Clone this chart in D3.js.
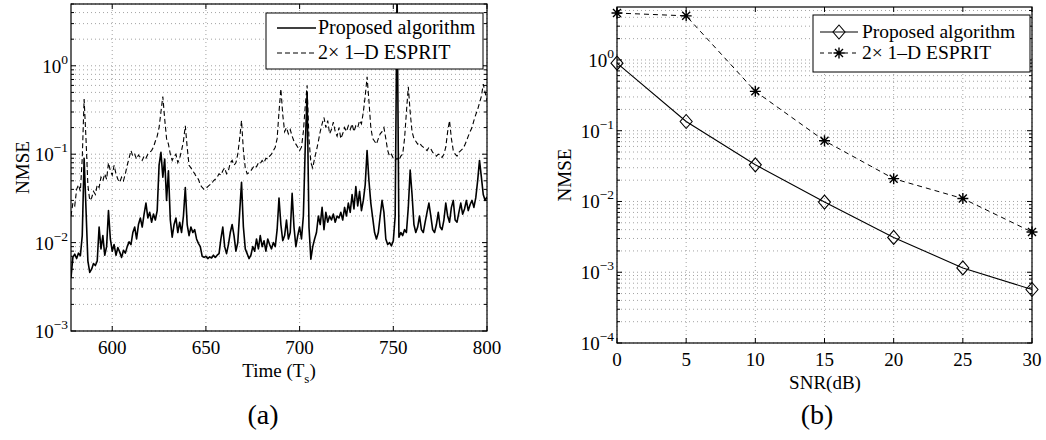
<!DOCTYPE html>
<html>
<head>
<meta charset="utf-8">
<script src="https://cdn.jsdelivr.net/npm/d3@7"></script>
<style>
  body { margin: 0; background: #fff; }
  svg { display: block; }
  text { font-family: "Liberation Serif", "Times New Roman", serif; fill: #000; }
</style>
</head>
<body>
<svg id="chart" width="1046" height="440"></svg>
<script>
// ---- (a) NMSE over time, one sample per T_s starting at t = 578 ----
const timeStart = 578;
const proposedTrack = [
  0.0040, 0.0068, 0.0074, 0.0066, 0.0076, 0.0071, 0.0120, 0.0900, 0.0240, 0.0062, // 578-587
  0.0046, 0.0050, 0.0058, 0.0055, 0.0062, 0.0150, 0.0085, 0.0120, 0.0072, 0.0090, // 588-597
  0.0230, 0.0110, 0.0080, 0.0095, 0.0072, 0.0088, 0.0078, 0.0068, 0.0082, 0.0076, // 598-607
  0.0090, 0.0102, 0.0095, 0.0130, 0.0150, 0.0110, 0.0160, 0.0190, 0.0150, 0.0210, // 608-617
  0.0280, 0.0190, 0.0220, 0.0170, 0.0210, 0.0180, 0.0230, 0.0750, 0.1050, 0.0550, // 618-627
  0.0880, 0.0300, 0.0650, 0.0180, 0.0115, 0.0160, 0.0190, 0.0130, 0.0170, 0.0130, // 628-637
  0.0200, 0.0420, 0.0160, 0.0120, 0.0150, 0.0130, 0.0140, 0.0110, 0.0098, 0.0090, // 638-647
  0.0070, 0.0068, 0.0070, 0.0066, 0.0069, 0.0067, 0.0072, 0.0068, 0.0072, 0.0075, // 648-657
  0.0110, 0.0150, 0.0090, 0.0075, 0.0095, 0.0130, 0.0160, 0.0120, 0.0080, 0.0100, // 658-667
  0.0220, 0.0480, 0.0150, 0.0085, 0.0075, 0.0066, 0.0072, 0.0090, 0.0080, 0.0110, // 668-677
  0.0085, 0.0120, 0.0090, 0.0105, 0.0080, 0.0110, 0.0095, 0.0085, 0.0100, 0.0090, // 678-687
  0.0140, 0.0320, 0.0160, 0.0105, 0.0120, 0.0180, 0.0110, 0.0130, 0.0360, 0.0150, // 688-697
  0.0090, 0.0120, 0.0150, 0.0110, 0.0200, 0.1200, 0.5000, 0.0150, 0.0065, 0.0090, // 698-707
  0.0110, 0.0130, 0.0200, 0.0160, 0.0250, 0.0140, 0.0220, 0.0170, 0.0200, 0.0180, // 708-717
  0.0210, 0.0170, 0.0200, 0.0190, 0.0220, 0.0180, 0.0250, 0.0200, 0.0280, 0.0220, // 718-727
  0.0350, 0.0240, 0.0430, 0.0260, 0.0380, 0.0230, 0.0300, 0.0450, 0.1100, 0.0500, // 728-737
  0.0280, 0.0190, 0.0130, 0.0110, 0.0130, 0.0200, 0.0300, 0.0220, 0.0110, 0.0095, // 738-747
  0.0100, 0.0092, 0.0105, 0.0200, 8.0000, 0.0115, 0.0130, 0.0120, 0.0140, 0.0130, // 748-757
  0.0250, 0.0660, 0.0350, 0.0160, 0.0130, 0.0150, 0.0200, 0.0140, 0.0130, 0.0170, // 758-767
  0.0220, 0.0280, 0.0200, 0.0140, 0.0130, 0.0160, 0.0220, 0.0150, 0.0140, 0.0180, // 768-777
  0.0280, 0.0200, 0.0170, 0.0250, 0.0300, 0.0180, 0.0170, 0.0220, 0.0280, 0.0210, // 778-787
  0.0240, 0.0300, 0.0230, 0.0270, 0.0300, 0.0250, 0.0320, 0.0500, 0.0850, 0.0550, // 788-797
  0.0350, 0.0300, 0.0330                                                          // 798-800
];
const espritTrack = [
  0.020, 0.028, 0.026, 0.040, 0.045, 0.038, 0.090, 0.420, 0.150, 0.045, // 578-587
  0.030, 0.032, 0.038, 0.035, 0.045, 0.042, 0.055, 0.050, 0.060, 0.052, // 588-597
  0.080, 0.065, 0.058, 0.075, 0.060, 0.052, 0.048, 0.055, 0.050, 0.060, // 598-607
  0.075, 0.090, 0.110, 0.095, 0.100, 0.088, 0.098, 0.092, 0.085, 0.095, // 608-617
  0.090, 0.100, 0.105, 0.110, 0.120, 0.140, 0.160, 0.200, 0.300, 0.450, // 618-627
  0.250, 0.150, 0.130, 0.100, 0.085, 0.095, 0.100, 0.080, 0.090, 0.110, // 628-637
  0.140, 0.210, 0.120, 0.075, 0.070, 0.065, 0.060, 0.055, 0.052, 0.045, // 638-647
  0.042, 0.040, 0.041, 0.043, 0.045, 0.046, 0.050, 0.052, 0.055, 0.060, // 648-657
  0.058, 0.065, 0.070, 0.060, 0.065, 0.080, 0.085, 0.075, 0.080, 0.100, // 658-667
  0.150, 0.240, 0.110, 0.070, 0.060, 0.062, 0.065, 0.070, 0.075, 0.072, // 668-677
  0.080, 0.078, 0.085, 0.080, 0.090, 0.088, 0.095, 0.100, 0.110, 0.120, // 678-687
  0.150, 0.300, 0.550, 0.280, 0.180, 0.200, 0.170, 0.190, 0.160, 0.140, // 688-697
  0.130, 0.120, 0.110, 0.120, 0.180, 0.350, 0.600, 0.150, 0.080, 0.070, // 698-707
  0.090, 0.110, 0.140, 0.180, 0.220, 0.260, 0.200, 0.240, 0.170, 0.190, // 708-717
  0.230, 0.180, 0.160, 0.200, 0.150, 0.170, 0.200, 0.180, 0.210, 0.190, // 718-727
  0.220, 0.180, 0.210, 0.200, 0.240, 0.220, 0.300, 0.450, 0.750, 0.400, // 728-737
  0.200, 0.150, 0.140, 0.130, 0.150, 0.170, 0.180, 0.200, 0.150, 0.110, // 738-747
  0.095, 0.100, 0.090, 0.085, 0.090, 0.085, 0.095, 0.100, 0.150, 0.300, // 748-757
  0.580, 0.300, 0.180, 0.150, 0.140, 0.130, 0.135, 0.125, 0.120, 0.115, // 758-767
  0.110, 0.120, 0.115, 0.105, 0.100, 0.095, 0.100, 0.098, 0.092, 0.100, // 768-777
  0.120, 0.180, 0.240, 0.150, 0.110, 0.100, 0.095, 0.105, 0.110, 0.115, // 778-787
  0.125, 0.140, 0.160, 0.180, 0.200, 0.240, 0.280, 0.320, 0.380, 0.450, // 788-797
  0.620, 0.500, 0.400                                                    // 798-800
];

// ---- (b) NMSE versus SNR ----
const snrDb = [0, 5, 10, 15, 20, 25, 30];
const proposedSnr = [0.90, 0.135, 0.033, 0.0098, 0.0031, 0.00115, 0.00057];
const espritSnr = [4.6, 4.2, 0.36, 0.072, 0.021, 0.011, 0.0037];

// ---- axis ticks and labels ----
const timeTicks = [600, 650, 700, 750, 800];
const snrTicks = [0, 5, 10, 15, 20, 25, 30];
const decadesA = [-3, -2, -1, 0];
const decadesB = [-4, -3, -2, -1, 0];
const legendLabels = ["Proposed algorithm", "2\u00d7 1\u2013D ESPRIT"];
const panelTags = ["(a)", "(b)"];

const svg = d3.select("#chart");

function minorValues(domain) {
  const out = [];
  const lo = Math.floor(Math.log10(domain[0]));
  const hi = Math.ceil(Math.log10(domain[1]));
  for (let d = lo; d <= hi; d++) {
    for (let m = 1; m <= 9; m++) {
      const v = m * Math.pow(10, d);
      if (v >= domain[0] * 0.9999 && v <= domain[1] * 1.0001) out.push({ v, major: m === 1 });
    }
  }
  return out;
}

function drawFrame(g, x, y, opts) {
  const [x0, x1] = x.range();
  const [y0, y1] = y.range(); // y0 bottom, y1 top
  const gridValsY = minorValues(y.domain());

  // dotted grid
  const grid = g.append("g").attr("stroke", "#8c8c8c").attr("stroke-width", 0.8)
    .attr("stroke-dasharray", "1,3").attr("fill", "none");
  grid.selectAll("line.gy").data(gridValsY).join("line")
    .attr("x1", x0).attr("x2", x1)
    .attr("y1", d => y(d.v)).attr("y2", d => y(d.v));
  grid.selectAll("line.gx").data(opts.xTicks).join("line")
    .attr("x1", d => x(d)).attr("x2", d => x(d))
    .attr("y1", y0).attr("y2", y1);

  // inward ticks on all four sides
  const tk = g.append("g").attr("stroke", "#000").attr("stroke-width", 1);
  opts.xTicks.forEach(t => {
    tk.append("line").attr("x1", x(t)).attr("x2", x(t)).attr("y1", y0).attr("y2", y0 - 5);
    tk.append("line").attr("x1", x(t)).attr("x2", x(t)).attr("y1", y1).attr("y2", y1 + 5);
  });
  gridValsY.forEach(d => {
    const len = d.major ? 5 : 3;
    tk.append("line").attr("x1", x0).attr("x2", x0 + len).attr("y1", y(d.v)).attr("y2", y(d.v));
    tk.append("line").attr("x1", x1).attr("x2", x1 - len).attr("y1", y(d.v)).attr("y2", y(d.v));
  });

  // box
  g.append("rect").attr("x", x0).attr("y", y1).attr("width", x1 - x0).attr("height", y0 - y1)
    .attr("fill", "none").attr("stroke", "#000").attr("stroke-width", 1.2);

  // x tick labels
  g.append("g").selectAll("text").data(opts.xTicks).join("text")
    .attr("x", d => x(d)).attr("y", y0 + 23)
    .attr("text-anchor", "middle").attr("font-size", 19)
    .text(d => d);

  // y tick labels 10^k
  const yl = g.append("g").selectAll("text").data(opts.decades).join("text")
    .attr("x", x0 - 3).attr("y", d => y(Math.pow(10, d)) + 7)
    .attr("text-anchor", "end").attr("font-size", 19);
  yl.append("tspan").text("10");
  yl.append("tspan").attr("dy", -9).attr("font-size", 13.5)
    .text(d => (d < 0 ? "\u2212" + (-d) : String(d)));

  // y label
  const cy = (y0 + y1) / 2;
  g.append("text").attr("transform", `translate(${opts.yLabelX},${cy}) rotate(-90)`)
    .attr("text-anchor", "middle").attr("font-size", 19).text("NMSE");
}

// ---------------- panel (a) ----------------
const xa = d3.scaleLinear().domain([timeStart, 800]).range([71, 487]);
const ya = d3.scaleLog().domain([1e-3, 5]).range([331, 4]);
const ga = svg.append("g");
drawFrame(ga, xa, ya, { xTicks: timeTicks, decades: decadesA, yLabelX: 29 });

svg.append("clipPath").attr("id", "clipA").append("rect")
  .attr("x", 71).attr("y", 4).attr("width", 416).attr("height", 327);

const lineA = d3.line().x((d, i) => xa(timeStart + i)).y(d => ya(d));
const plotA = ga.append("g").attr("clip-path", "url(#clipA)");
plotA.append("path").attr("d", lineA(espritTrack)).attr("fill", "none")
  .attr("stroke", "#000").attr("stroke-width", 1.1).attr("stroke-dasharray", "5,3");
plotA.append("path").attr("d", lineA(proposedTrack)).attr("fill", "none")
  .attr("stroke", "#000").attr("stroke-width", 1.6).attr("stroke-linejoin", "round");

// x label with subscript
const xlabA = ga.append("text").attr("x", 279).attr("y", 377)
  .attr("text-anchor", "middle").attr("font-size", 19);
xlabA.append("tspan").text("Time (T");
xlabA.append("tspan").attr("dy", 6).attr("font-size", 13).text("s");
xlabA.append("tspan").attr("dy", -6).text(")");

// legend (a)
const lgA = ga.append("g");
lgA.append("rect").attr("x", 266).attr("y", 13).attr("width", 217).attr("height", 56)
  .attr("fill", "#fff").attr("stroke", "#000").attr("stroke-width", 1);
lgA.append("line").attr("x1", 277).attr("x2", 316).attr("y1", 28).attr("y2", 28)
  .attr("stroke", "#000").attr("stroke-width", 1.6);
lgA.append("line").attr("x1", 277).attr("x2", 316).attr("y1", 53).attr("y2", 53)
  .attr("stroke", "#000").attr("stroke-width", 1.1).attr("stroke-dasharray", "5,3");
lgA.selectAll("text").data(legendLabels).join("text")
  .attr("x", 318).attr("y", (d, i) => 34 + i * 25).attr("font-size", 20).text(d => d);

// ---------------- panel (b) ----------------
const xb = d3.scaleLinear().domain([0, 30]).range([617, 1032]);
const yb = d3.scaleLog().domain([1e-4, 5.6]).range([343, 7]);
const gb = svg.append("g");
drawFrame(gb, xb, yb, { xTicks: snrTicks, decades: decadesB, yLabelX: 571 });

const lineB = d3.line().x((d, i) => xb(snrDb[i])).y(d => yb(d));
gb.append("path").attr("d", lineB(espritSnr)).attr("fill", "none")
  .attr("stroke", "#000").attr("stroke-width", 1).attr("stroke-dasharray", "5,4");
gb.append("path").attr("d", lineB(proposedSnr)).attr("fill", "none")
  .attr("stroke", "#000").attr("stroke-width", 1.1);

function diamond(g, cx, cy) {
  g.append("path").attr("d", `M${cx},${cy - 7}L${cx + 6},${cy}L${cx},${cy + 7}L${cx - 6},${cy}Z`)
    .attr("fill", "none").attr("stroke", "#000").attr("stroke-width", 1.1);
}
function asterisk(g, cx, cy) {
  const r = 5.5, q = 4;
  g.append("path").attr("d",
    `M${cx - r},${cy}L${cx + r},${cy}M${cx},${cy - r}L${cx},${cy + r}` +
    `M${cx - q},${cy - q}L${cx + q},${cy + q}M${cx - q},${cy + q}L${cx + q},${cy - q}`)
    .attr("stroke", "#000").attr("stroke-width", 1.4);
}
snrDb.forEach((s, i) => diamond(gb, xb(s), yb(proposedSnr[i])));
snrDb.forEach((s, i) => asterisk(gb, xb(s), yb(espritSnr[i])));

gb.append("text").attr("x", 825).attr("y", 389).attr("text-anchor", "middle")
  .attr("font-size", 19).text("SNR(dB)");

// legend (b)
const lgB = gb.append("g");
lgB.append("rect").attr("x", 813).attr("y", 15).attr("width", 217).attr("height", 57)
  .attr("fill", "#fff").attr("stroke", "#000").attr("stroke-width", 1);
lgB.append("line").attr("x1", 820).attr("x2", 858).attr("y1", 32).attr("y2", 32)
  .attr("stroke", "#000").attr("stroke-width", 1.1);
diamond(lgB, 839, 32);
lgB.append("line").attr("x1", 820).attr("x2", 858).attr("y1", 53).attr("y2", 53)
  .attr("stroke", "#000").attr("stroke-width", 1).attr("stroke-dasharray", "4,4");
asterisk(lgB, 839, 53);
lgB.selectAll("text").data(legendLabels).join("text")
  .attr("x", 862).attr("y", (d, i) => 38 + i * 21).attr("font-size", 19.5).text(d => d);

// panel tags
svg.selectAll("text.tag").data(panelTags).join("text").attr("class", "tag")
  .attr("x", (d, i) => [263, 817][i]).attr("y", 424)
  .attr("text-anchor", "middle").attr("font-size", 28).text(d => d);
</script>
</body>
</html>
